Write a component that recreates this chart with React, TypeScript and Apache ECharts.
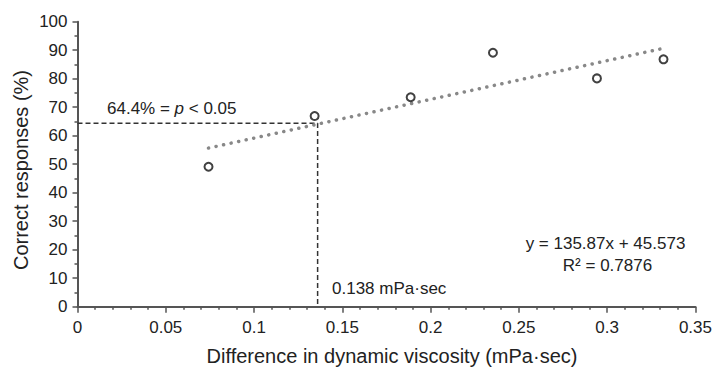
import React, { useEffect, useRef } from "react";
import * as echarts from "echarts";

const xValues = [0.0742, 0.1343, 0.1887, 0.2353, 0.2942, 0.3319];
const yValues = [49.1, 66.9, 73.5, 89.1, 80.1, 86.8];
const trendSlope = 135.87;
const trendIntercept = 45.573;
const thresholdY = 64.4;
const thresholdX = 0.136;
const xTicks = [0, 0.05, 0.1, 0.15, 0.2, 0.25, 0.3, 0.35];
const yTicks = [0, 10, 20, 30, 40, 50, 60, 70, 80, 90, 100];

const FONT = '"Liberation Sans", Arial, Helvetica, sans-serif';
const TXT = "#222";

export default function App() {
  const ref = useRef<HTMLDivElement>(null);
  useEffect(() => {
    if (!ref.current) return;
    const chart = echarts.init(ref.current, null, { renderer: "svg" });
    const xMin = Math.min(...xValues);
    const xMax = Math.max(...xValues);
    const trend = [xMin, xMax].map((x) => [x, trendSlope * x + trendIntercept]);
    const axisColor = "#555";
    const mid = (x: number, y: number, text: string, size: number, extra: any = {}) => ({
      type: "text",
      x,
      y,
      ...extra,
      style: {
        text,
        fontSize: size,
        fontFamily: FONT,
        fill: TXT,
        textAlign: "center",
        textVerticalAlign: "middle",
      },
    });
    chart.setOption({
      animation: false,
      textStyle: { fontFamily: FONT },
      grid: { left: 77.5, right: 16, top: 21.7, bottom: 60.3 },
      xAxis: {
        type: "value",
        min: xTicks[0],
        max: xTicks[xTicks.length - 1],
        interval: 0.05,
        axisLine: { lineStyle: { color: axisColor, width: 2 } },
        axisTick: { show: true, length: 6, lineStyle: { color: axisColor, width: 1.5 } },
        minorTick: { show: true, splitNumber: 5, length: 3, lineStyle: { color: axisColor, width: 1.5 } },
        splitLine: { show: false },
        axisLabel: {
          fontSize: 17,
          color: TXT,
          margin: 12,
          fontFamily: FONT,
          formatter: (v: number) => String(+v.toFixed(2)),
        },
      },
      yAxis: {
        type: "value",
        min: yTicks[0],
        max: yTicks[yTicks.length - 1],
        interval: 10,
        axisLine: { show: true, lineStyle: { color: axisColor, width: 2 } },
        axisTick: { show: true, length: 5, lineStyle: { color: axisColor, width: 1.5 } },
        minorTick: { show: true, splitNumber: 2, length: 3, lineStyle: { color: axisColor, width: 1.5 } },
        splitLine: { show: false },
        axisLabel: { fontSize: 17, color: TXT, margin: 10, fontFamily: FONT },
      },
      graphic: [
        mid(392, 355.5, "Difference in dynamic viscosity (mPa·sec)", 20),
        mid(21, 170, "Correct responses (%)", 20, { rotation: Math.PI / 2 }),
        {
          type: "text",
          x: 107,
          y: 108,
          style: {
            text: "{a|64.4% = }{i|p}{a| < 0.05}",
            textVerticalAlign: "middle",
            rich: {
              a: { fontSize: 17, fontFamily: FONT, fill: TXT },
              i: { fontSize: 17, fontFamily: FONT, fontStyle: "italic", fill: TXT },
            },
          },
        },
        {
          type: "text",
          x: 332,
          y: 288,
          style: { text: "0.138 mPa·sec", fontSize: 17, fontFamily: FONT, fill: TXT, textVerticalAlign: "middle" },
        },
        mid(605.5, 243, "y = 135.87x + 45.573", 17),
        mid(607.5, 265, "R² = 0.7876", 17),
      ],
      series: [
        {
          type: "line",
          data: [
            [0, thresholdY],
            [thresholdX, thresholdY],
            [thresholdX, 0],
          ],
          symbol: "none",
          lineStyle: { color: "#333", width: 1.5, type: [5, 3] },
          z: 1,
        },
        {
          type: "line",
          data: trend,
          symbol: "none",
          lineStyle: { color: "#888", width: 3.5, type: [0.1, 7.6], cap: "round" },
          z: 2,
        },
        {
          type: "scatter",
          data: xValues.map((x, i) => [x, yValues[i]]),
          symbol: "circle",
          symbolSize: 8,
          itemStyle: { color: "#fff", borderColor: "#111", borderWidth: 2 },
          z: 3,
        },
      ],
    });
    return () => chart.dispose();
  }, []);
  return <div ref={ref} style={{ width: 715, height: 367, position: "absolute", left: 0, top: 0 }} />;
}
